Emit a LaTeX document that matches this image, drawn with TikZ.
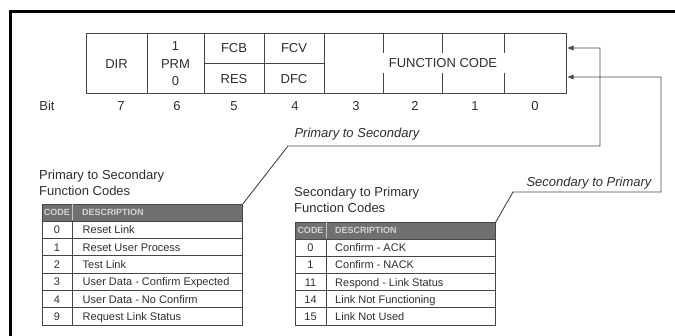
\documentclass[tikz,border=0pt]{standalone}
\usepackage{fontspec}
\setmainfont{Liberation Sans}
\usetikzlibrary{arrows.meta}
\definecolor{ink}{HTML}{2E2E2E}
\definecolor{linec}{HTML}{464646}
\definecolor{hdrfill}{HTML}{707070}
\definecolor{hdrtext}{HTML}{D4D4D4}
\tikzset{
  regline/.style={draw=linec, line width=0.9pt},
  cell/.style={regline, rectangle, inner sep=0pt, anchor=north west},
  regtxt/.style={text=ink, inner sep=0pt, font=\fontsize{13}{15}\selectfont, text height=9.3pt, text depth=0pt},
  ittxt/.style={regtxt, font=\fontsize{13}{15}\selectfont\itshape},
  title/.style={text=ink, inner sep=0pt, anchor=west, align=left, font=\fontsize{13}{16}\selectfont},
  tab/.style={draw=linec, line width=0.8pt},
  rowtxt/.style={text=ink, inner sep=0pt, font=\fontsize{11}{13}\selectfont, text height=7.9pt, text depth=0pt},
  hdr/.style={fill=hdrfill, draw=linec, line width=0.8pt, rectangle, inner sep=0pt, anchor=north west, minimum width=200pt, minimum height=17pt},
  hdrtxt/.style={text=hdrtext, inner sep=0pt, font=\fontsize{9}{10}\selectfont\bfseries, text height=6.5pt, text depth=0pt},
  callout/.style={draw=linec, line width=0.9pt},
  arr/.style={callout, -{Triangle[length=6pt,width=4.5pt]}}
}
\begin{document}
\begin{tikzpicture}[x=1pt,y=-1pt]
\useasboundingbox (0,0) rectangle (675,336);
% frame
\draw[line width=3pt] (10.5,336) -- (10.5,12) -- (676,12);

% register
\node[cell, minimum width=61pt, minimum height=60pt] (r7) at (86,33) {};
\node[cell, minimum width=57pt, minimum height=60pt] (r6) at (147,33) {};
\node[cell, minimum width=60pt, minimum height=60pt] (r5) at (204,33) {};
\node[cell, minimum width=60pt, minimum height=60pt] (r4) at (264,33) {};
\node[cell, minimum width=242pt, minimum height=60pt] (fc) at (324,33) {};
\draw[regline] (r5.west) -- (r4.east);
\foreach \x in {383,442,504}{
  \draw[regline] (\x,33) -- (\x,53);
  \draw[regline] (\x,73) -- (\x,93);
}
\node[regtxt] (tdir) at (116.5,64) {DIR};
\node[regtxt] (tone) at (175.5,45.5) {1};
\node[regtxt] (tprm) at (175.5,63.5) {PRM};
\node[regtxt] (tzero) at (175.5,81) {0};
\node[regtxt] (tfcb) at (234,48) {FCB};
\node[regtxt] (tres) at (234,78.5) {RES};
\node[regtxt] (tfcv) at (294,48) {FCV};
\node[regtxt] (tdfc) at (294,78.5) {DFC};
\node[regtxt] (tfc) at (443,63) {FUNCTION CODE};

% bit numbers
\node[regtxt] (bit) at (47,106) {Bit};
\foreach \b/\x in {7/121,6/177,5/234,4/295,3/356,2/415,1/475,0/535}{
  \node[regtxt] (b\b) at (\x,106) {\b};
}

% Table 1
\node[title] (t1title) at (39,183) {Primary to Secondary\\Function Codes};
\node[hdr] (t1h) at (42,204) {};
\draw[draw=gray!45, line width=0.8pt] (72,204.5) -- (72,220.5);
\node[hdrtxt] (t1hc) at (57,212.5) {CODE};
\node[hdrtxt, anchor=west] (t1hd) at (82,212.5) {DESCRIPTION};
\foreach \c/\d [count=\i from 0] in {0/Reset Link,1/Reset User Process,2/Test Link,3/User Data - Confirm Expected,4/User Data - No Confirm,9/Request Link Status}{
  \pgfmathsetmacro\yt{221+17.33*\i}
  \draw[tab] (42,\yt) rectangle (242,\yt+17.33);
  \draw[tab] (72,\yt) -- (72,\yt+17.33);
  \node[rowtxt] (p\i c) at (57,\yt+8.8) {\c};
  \node[rowtxt, anchor=west] (p\i d) at (82.5,\yt+8.8) {\d};
}

% Table 2
\node[title] (t2title) at (294,200) {Secondary to Primary\\Function Codes};
\node[hdr] (t2h) at (295,222) {};
\draw[draw=gray!45, line width=0.8pt] (326,222.5) -- (326,238.5);
\node[hdrtxt] (t2hc) at (310.5,230.5) {CODE};
\node[hdrtxt, anchor=west] (t2hd) at (335,230.5) {DESCRIPTION};
\foreach \c/\d [count=\i from 0] in {0/Confirm - ACK,1/Confirm - NACK,11/Respond - Link Status,14/Link Not Functioning,15/Link Not Used}{
  \pgfmathsetmacro\yt{239+17.2*\i}
  \draw[tab] (295,\yt) rectangle (495,\yt+17.2);
  \draw[tab] (326,\yt) -- (326,\yt+17.2);
  \node[rowtxt] (s\i c) at (310.5,\yt+8.7) {\c};
  \node[rowtxt, anchor=west] (s\i d) at (335,\yt+8.7) {\d};
}

% callouts
\coordinate (k1) at (288,146);
\coordinate (k2) at (600,146);
\coordinate (k3) at (600,48);
\coordinate (in1) at (567.5,48);
\coordinate (m1) at (513,192);
\coordinate (m2) at (661,192);
\coordinate (m3) at (661,77);
\coordinate (in2) at (567.5,77);
\draw[arr] (t1h.north east) -- (k1) -- (k2) -- (k3) -- (in1);
\draw[arr] (t2h.north east) -- (m1) -- (m2) -- (m3) -- (in2);
\node[ittxt] (lab1) at (357,133) {Primary to Secondary};
\node[ittxt] (lab2) at (589,182) {Secondary to Primary};
\end{tikzpicture}
\end{document}
